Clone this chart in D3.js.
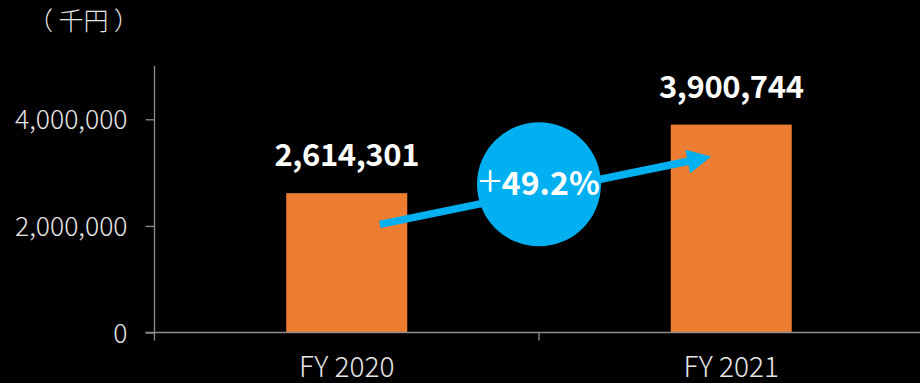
<!DOCTYPE html>
<html>
<head>
<meta charset="utf-8">
<script src="https://cdn.jsdelivr.net/npm/d3@7"></script>
<style>
  html, body { margin: 0; padding: 0; background: #000; }
  svg { display: block; }
  text { font-family: "Noto Sans CJK JP", "Noto Sans", sans-serif; }
</style>
</head>
<body>
<svg id="chart" width="920" height="383"></svg>
<script>
// Revenue by fiscal year (thousand yen)
const categories = ["FY 2020", "FY 2021"];
const revenue = [2614301, 3900744];
const yTicks = [0, 2000000, 4000000];
const unitLabel = "（ 千円 ）";
const growthSign = "+";
const growthValue = "49.2%";

const W = 920, H = 383;
const svg = d3.select("#chart");

const x = d3.scaleBand().domain(categories).range([154.5, 923.5]).paddingInner(0).paddingOuter(0);
const y = d3.scaleLinear().domain([0, 5000000]).range([332.5, 66]);

const axisColor = "#8c8c8c";
const labelColor = "#e6e6e6";
const barColor = "#ED7D31";
const accent = "#00B0F0";

// unit caption
svg.append("text")
  .attr("x", 28).attr("y", 30)
  .attr("fill", labelColor)
  .attr("font-size", 25)
  .attr("font-weight", 300)
  .text(unitLabel);

// bars
const barW = 121;
svg.selectAll("rect.bar")
  .data(categories)
  .enter().append("rect")
  .attr("class", "bar")
  .attr("x", d => x(d) + x.bandwidth() / 2 - barW / 2)
  .attr("width", barW)
  .attr("y", (d, i) => y(revenue[i]))
  .attr("height", (d, i) => y(0) - y(revenue[i]))
  .attr("fill", barColor);

// y axis
const yAxis = d3.axisLeft(y).tickValues(yTicks).tickSize(9).tickPadding(18)
  .tickFormat(d3.format(","));
const gy = svg.append("g").attr("transform", `translate(${x.range()[0]},0)`).call(yAxis);
gy.select(".domain").attr("d", `M0,${y.range()[1]}V${y(0) + 8}`).attr("stroke", axisColor).attr("stroke-width", 1.3);
gy.selectAll(".tick line").attr("stroke", axisColor).attr("stroke-width", 1.3);
gy.selectAll(".tick text")
  .attr("fill", labelColor)
  .attr("font-size", 26.5)
  .attr("font-weight", 300)
  .attr("font-family", "'Noto Sans CJK JP', sans-serif")
  .attr("dy", "0.36em");

// x axis baseline and band-boundary ticks
svg.append("line")
  .attr("x1", x.range()[0] - 9).attr("x2", W)
  .attr("y1", y(0)).attr("y2", y(0))
  .attr("stroke", axisColor).attr("stroke-width", 1.3);
svg.selectAll("line.xtick")
  .data(categories.slice(1))
  .enter().append("line")
  .attr("class", "xtick")
  .attr("x1", d => x(d)).attr("x2", d => x(d))
  .attr("y1", y(0)).attr("y2", y(0) + 8)
  .attr("stroke", axisColor).attr("stroke-width", 1.3);
svg.selectAll("text.xlab")
  .data(categories)
  .enter().append("text")
  .attr("class", "xlab")
  .attr("x", d => x(d) + x.bandwidth() / 2)
  .attr("y", y(0) + 44)
  .attr("text-anchor", "middle")
  .attr("fill", labelColor)
  .attr("font-size", 28)
  .attr("font-weight", 300)
  .text(d => d);

// value labels
svg.selectAll("text.val")
  .data(categories)
  .enter().append("text")
  .attr("class", "val")
  .attr("x", d => x(d) + x.bandwidth() / 2)
  .attr("y", (d, i) => y(revenue[i]) - 27)
  .attr("text-anchor", "middle")
  .attr("fill", "#fff")
  .attr("font-size", 31)
  .attr("font-weight", 700)
  .attr("letter-spacing", -0.4)
  .text((d, i) => d3.format(",")(revenue[i]));

// growth arrow from the first bar toward the second
const c0 = x(categories[0]) + x.bandwidth() / 2;
const c1 = x(categories[1]) + x.bandwidth() / 2;
const x0 = c0 + 33, y0 = y(2030000);
const x1 = c1 - 20, y1 = y(3300000);
const ang = Math.atan2(y1 - y0, x1 - x0);
const headLen = 24, headHalf = 12, shaft = 7.5;
const bx = x1 - headLen * Math.cos(ang), by = y1 - headLen * Math.sin(ang);
svg.append("line")
  .attr("x1", x0).attr("y1", y0)
  .attr("x2", bx + 2 * Math.cos(ang)).attr("y2", by + 2 * Math.sin(ang))
  .attr("stroke", accent).attr("stroke-width", shaft);
const nx = -Math.sin(ang), ny = Math.cos(ang);
svg.append("path")
  .attr("d", `M${x1},${y1}L${bx + nx * headHalf},${by + ny * headHalf}L${bx - nx * headHalf},${by - ny * headHalf}Z`)
  .attr("fill", accent);

// growth badge
const cx = x(categories[1]), cy = y(2780000);
svg.append("circle").attr("cx", cx).attr("cy", cy).attr("r", 62).attr("fill", accent);
const badge = svg.append("text")
  .attr("x", cx).attr("y", cy + 11)
  .attr("text-anchor", "middle")
  .attr("fill", "#fff")
  .attr("font-size", 32);
badge.append("tspan").attr("font-weight", 300).attr("font-size", 44).attr("dy", 2).text(growthSign);
badge.append("tspan").attr("font-weight", 700).attr("dy", -2).text(growthValue);
</script>
</body>
</html>
